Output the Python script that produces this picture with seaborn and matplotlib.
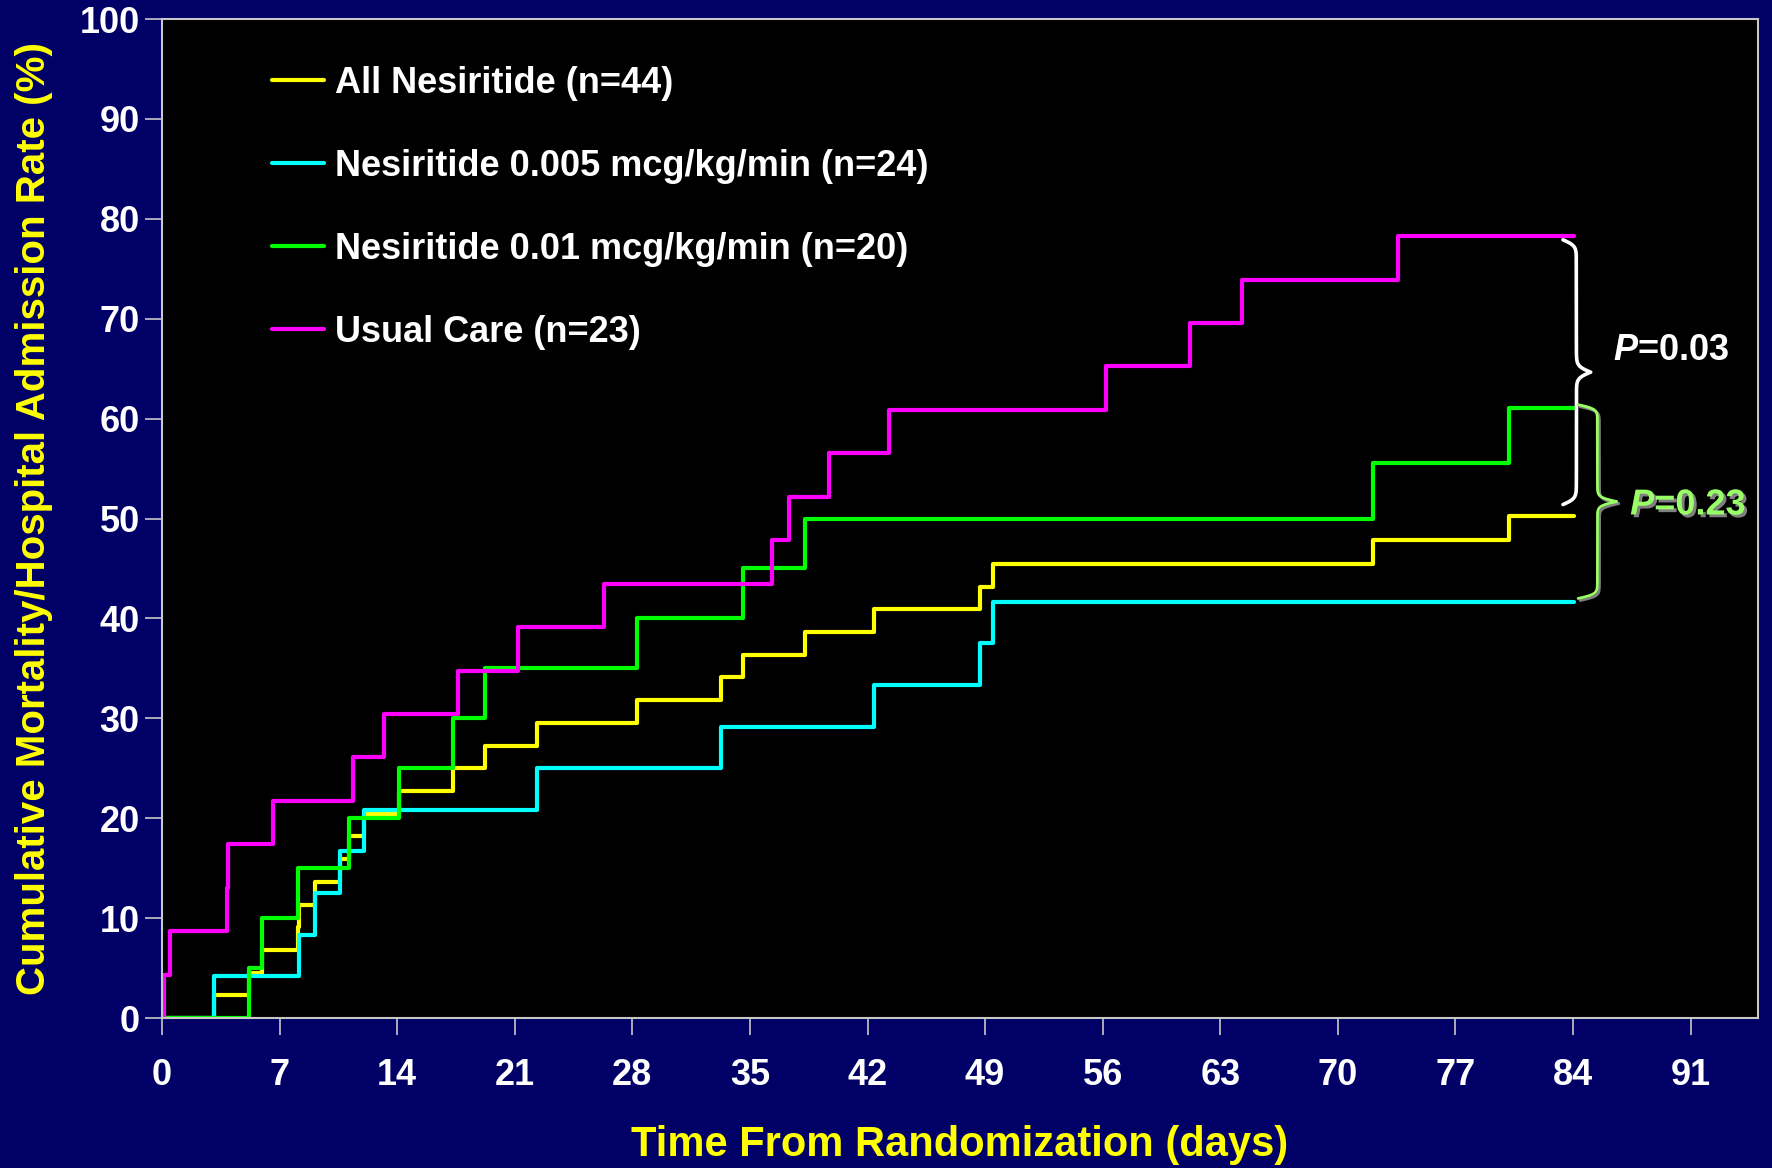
import numpy as np
import pandas as pd
import seaborn as sns
import matplotlib.pyplot as plt
import matplotlib.patheffects as pe

# event times (days) and cumulative rate (%)
yellow_days = [3.1, 5.2, 5.97, 8.12, 8.17, 9.1, 10.6, 11.16, 12.0, 14.13, 17.3, 19.25,
               22.3, 28.3, 33.3, 34.6, 38.3, 42.4, 48.7, 49.5, 72.1, 80.2]
yellow_rate = [2.27, 4.55, 6.82, 9.09, 11.36, 13.64, 15.91, 18.18, 20.45, 22.73, 25.0, 27.27,
               29.55, 31.82, 34.09, 36.36, 38.64, 40.91, 43.18, 45.45, 47.9, 50.3]

cyan_days = [3.1, 8.17, 9.1, 10.6, 12.0, 22.3, 33.3, 42.4, 48.7, 49.5]
cyan_rate = [4.17, 8.33, 12.5, 16.67, 20.83, 25.0, 29.17, 33.33, 37.5, 41.67]

green_days = [5.2, 5.97, 8.12, 11.16, 14.13, 17.3, 19.25, 28.3, 34.6, 38.3, 72.1, 80.2]
green_rate = [5.0, 10.0, 15.0, 20.0, 25.0, 30.0, 35.0, 40.0, 45.0, 50.0, 55.6, 61.1]

magenta_days = [0.13, 0.5, 3.85, 3.95, 6.6, 11.4, 13.2, 17.65, 21.2, 26.3, 36.3, 37.3,
                39.7, 43.3, 56.2, 61.2, 64.3, 73.6]
magenta_rate = [4.35, 8.7, 13.04, 17.39, 21.74, 26.09, 30.43, 34.78, 39.13, 43.48, 47.83,
                52.17, 56.52, 60.87, 65.22, 69.57, 73.91, 78.26]

end_day = 84.05
groups = ["All Nesiritide (n=44)",
          "Nesiritide 0.005 mcg/kg/min (n=24)",
          "Nesiritide 0.01 mcg/kg/min (n=20)",
          "Usual Care (n=23)"]
colors = ["#FFFF00", "#00FFFF", "#00FF00", "#FF00FF"]
series = [(yellow_days, yellow_rate), (cyan_days, cyan_rate),
          (green_days, green_rate), (magenta_days, magenta_rate)]

x_ticks = list(range(0, 92, 7))
y_ticks = list(range(0, 101, 10))

rows = []
for g, (d, r) in zip(groups, series):
    days = [0.0] + d + [end_day]
    rate = [0.0] + r + [r[-1]]
    for a, b in zip(days, rate):
        rows.append({"day": a, "rate": b, "group": g})
df = pd.DataFrame(rows)

sns.set_theme(style="white")
plt.rcParams["font.family"] = ["Liberation Sans", "DejaVu Sans"]
plt.rcParams["font.weight"] = "bold"
plt.rcParams["mathtext.fontset"] = "custom"
plt.rcParams["mathtext.it"] = "Liberation Sans:italic:bold"
plt.rcParams["mathtext.rm"] = "Liberation Sans:bold"

navy = "#000066"
fig = plt.figure(figsize=(17.72, 11.68), dpi=100, facecolor=navy)
ax = fig.add_axes([0.0914, 0.1284, 0.9006, 0.8553])
ax.set_facecolor("black")

sns.lineplot(data=df, x="day", y="rate", hue="group", hue_order=groups,
             palette=dict(zip(groups, colors)), drawstyle="steps-post",
             estimator=None, sort=False, linewidth=3.0, ax=ax)

ax.set_xlim(0, 95)
ax.set_ylim(0, 100)
ax.set_xticks(x_ticks)
ax.set_yticks(y_ticks)
ax.tick_params(axis="both", colors="#C8C8C8", labelcolor="white", labelsize=26,
               length=12, width=1.2, direction="out")
ax.tick_params(axis="x", pad=17)
ax.tick_params(axis="y", pad=4)
ax.tick_params(bottom=True, left=True)
for lab in ax.get_xticklabels() + ax.get_yticklabels():
    lab.set_fontweight("bold")
for sp in ax.spines.values():
    sp.set_color("#C8C8C8")
    sp.set_linewidth(1.5)

ax.set_xlabel("Time From Randomization (days)", color="#FFFF00", fontsize=30,
              fontweight="bold", labelpad=23)
ax.set_ylabel("Cumulative Mortality/Hospital Admission Rate (%)", color="#FFFF00",
              fontsize=29, fontweight="bold", labelpad=19)

handles, labels = ax.get_legend_handles_labels()
leg = ax.legend(handles, labels, loc="upper left", bbox_to_anchor=(0.069, 0.953),
                frameon=False, fontsize=26, labelspacing=1.33, handlelength=1.45,
                handletextpad=0.3, borderpad=0, borderaxespad=0)
for t in leg.get_texts():
    t.set_color("white")
    t.set_fontweight("bold")


def brace(ax, x0, y_top, y_bot, a, b, **kw):
    # vertical curly brace opening to the left, tip pointing right
    s = np.linspace(0, 0.5, 200)
    beta = 90
    sig1 = 1 / (1 + np.exp(-beta * s))
    sig2 = 1 / (1 + np.exp(-beta * (s - 0.5)))
    half = x0 + a * (2 * sig1 - 1) + 2 * b * sig2
    xs = np.concatenate([half, half[::-1]])
    ys = y_bot + (y_top - y_bot) * np.concatenate([s, 1 - s[::-1]])
    ax.plot(xs, ys, clip_on=False, solid_capstyle="round", **kw)


brace(ax, 83.4, 77.9, 51.4, 0.8, 0.85, color="white", lw=2.6)
brace(ax, 84.3, 61.4, 42.0, 1.15, 1.15, color="#99FF66", lw=2.0,
      path_effects=[pe.SimpleLineShadow(offset=(1.5, -1.5), shadow_color="gray", alpha=1),
                    pe.Normal()])

ax.text(86.4, 66.8, "$P$=0.03", color="white", fontsize=26, fontweight="bold",
        va="center", ha="left")
ax.text(87.4, 51.35, "$P$=0.23", color="#99FF66", fontsize=26, fontweight="bold",
        va="center", ha="left",
        path_effects=[pe.withSimplePatchShadow(offset=(2, -2), shadow_rgbFace="gray",
                                               alpha=1)])

fig.savefig("out.png", dpi=100, facecolor=navy)
